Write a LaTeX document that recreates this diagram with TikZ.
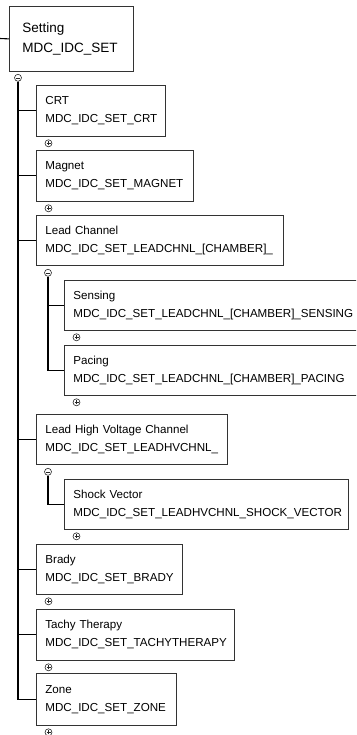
\documentclass[tikz,border=0pt]{standalone}
\usepackage{fontspec}
\setmainfont{Liberation Sans}
\usetikzlibrary{positioning, calc}

\tikzset{
  item/.style={draw=black!80, line width=0.8pt, anchor=north west, align=left,
    inner xsep=9pt, inner ysep=0pt, font=\fontsize{11.6}{18}\selectfont},
  sign/.style={circle, draw=black!85, fill=white, minimum size=7pt, inner sep=0pt, line width=0.6pt},
  expd/.style={sign, path picture={
    \draw[line width=0.55pt] ([xshift=-2pt]path picture bounding box.center) -- ([xshift=2pt]path picture bounding box.center)
      ([yshift=-2pt]path picture bounding box.center) -- ([yshift=2pt]path picture bounding box.center);}},
  clps/.style={sign, path picture={
    \draw[line width=0.55pt] ([xshift=-2pt]path picture bounding box.center) -- ([xshift=2pt]path picture bounding box.center);}},
  tree/.style={line width=1.1pt, black}
}

\begin{document}
\begin{tikzpicture}[x=1pt, y=-1pt]
    \clip (0,0) rectangle (356,735);

    % Root
    \node[item, inner xsep=13pt, text width=98pt, minimum height=65pt,
          font=\fontsize{13.5}{20}\selectfont] (set) at (9,6) {Setting\\MDC\_IDC\_SET};
    \coordinate (in) at (0,38.5);
    \node[clps] (m0) at ([xshift=9pt,yshift=-6pt]set.south west) {};

    % First level
    \node[item, text width=111pt, minimum height=51pt] (crt) at (36,85) {CRT\\MDC\_IDC\_SET\_CRT};
    \node[item, text width=139pt, minimum height=51pt] (mag) at (36,150) {Magnet\\MDC\_IDC\_SET\_MAGNET};
    \node[item, text width=229pt, minimum height=50pt] (lead) at (36,215) {Lead Channel\\MDC\_IDC\_SET\_LEADCHNL\_[CHAMBER]\_};
    \node[item, text width=173pt, minimum height=50pt] (lhv) at (36,414) {Lead High Voltage Channel\\MDC\_IDC\_SET\_LEADHVCHNL\_};
    \node[item, text width=128pt, minimum height=50pt] (brady) at (36,544) {Brady\\MDC\_IDC\_SET\_BRADY};
    \node[item, text width=180pt, minimum height=51pt] (tachy) at (36,609) {Tachy Therapy\\MDC\_IDC\_SET\_TACHYTHERAPY};
    \node[item, text width=122pt, minimum height=52pt] (zone) at (36,673) {Zone\\MDC\_IDC\_SET\_ZONE};

    % Second level
    \node[clps] (mlead) at ([xshift=12pt,yshift=-7pt]lead.south west) {};
    \node[item, text width=282pt, minimum height=50pt] (sens) at (64,280) {Sensing\\MDC\_IDC\_SET\_LEADCHNL\_[CHAMBER]\_SENSING};
    \node[item, text width=282pt, minimum height=50pt] (pace) at (64,345) {Pacing\\MDC\_IDC\_SET\_LEADCHNL\_[CHAMBER]\_PACING};
    \node[clps] (mlhv) at ([xshift=12pt,yshift=-7pt]lhv.south west) {};
    \node[item, text width=266pt, minimum height=50pt] (shock) at (64,479) {Shock Vector\\MDC\_IDC\_SET\_LEADHVCHNL\_SHOCK\_VECTOR};

    % Collapsed markers
    \foreach \b in {crt,mag,sens,pace,shock,brady,tachy,zone} {
        \node[expd] (x\b) at ([xshift=12.5pt,yshift=-6.5pt]\b.south west) {};
    }

    % Connectors
    \draw[tree] (in) -- (set.west);
    \foreach \c in {crt,mag,lead,lhv,brady,tachy,zone} {
        \draw[tree] (m0.south) |- (\c.west);
    }
    \draw[tree] (mlead.south) |- (sens.west);
    \draw[tree] (mlead.south) |- (pace.west);
    \draw[tree] (mlhv.south) |- (shock.west);

\end{tikzpicture}
\end{document}
